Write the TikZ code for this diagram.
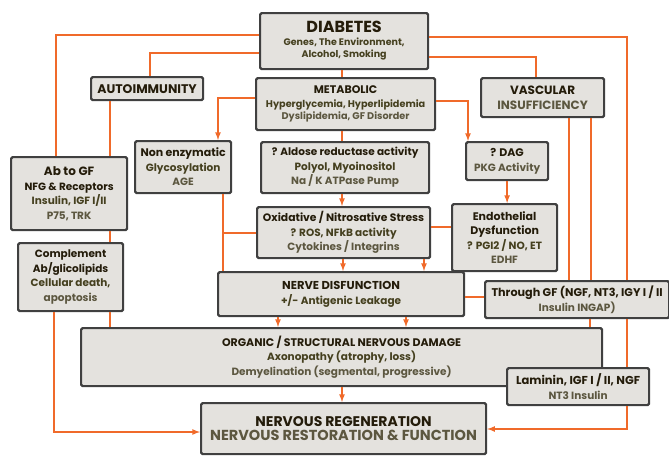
\documentclass[tikz,border=0pt]{standalone}
\usepackage{fontspec}
\setmainfont{Poppins}
\definecolor{edgeorange}{HTML}{F06A2A}
\definecolor{boxfill}{HTML}{E4E2DE}
\definecolor{boxline}{HTML}{404040}
\definecolor{tdark}{HTML}{241C0A}
\definecolor{tmid}{HTML}{45401F}
\definecolor{tlight}{HTML}{5C5740}
\newcommand{\hd}[1]{\textcolor{tdark}{\bfseries #1}}
\newcommand{\md}[1]{\textcolor{tmid}{\bfseries #1}}
\newcommand{\lt}[1]{\textcolor{tlight}{\bfseries #1}}
\newcommand{\sz}[1]{\fontsize{#1}{14.5}\selectfont}
\tikzset{
  panel/.style={draw=boxline, fill=boxfill, line width=2.2pt, rounded corners=1.5pt,
    align=center, anchor=north west, inner sep=1pt, font=\fontsize{10.5}{14.5}\selectfont},
  wire/.style={draw=edgeorange, line width=1.6pt},
  feed/.style={wire, -latex},
}

\begin{document}
\begin{tikzpicture}[x=1pt, y=-1pt]
			%%%%% FRAME %%%%%
			\useasboundingbox (0,0) rectangle (669,455);
			
			%%%%% BOXES %%%%%
			\node[panel, minimum width=168pt, minimum height=56pt] (diabetes) at (259,12)
				{{\fontsize{16}{17}\selectfont\hd{DIABETES}}\\[-2pt]
				 {\fontsize{9.5}{13}\selectfont\md{Genes, The Environment,}}\\[-2pt]
				 {\fontsize{9.5}{13}\selectfont\md{Alcohol, Smoking}}};
			\node[panel, minimum width=112pt, minimum height=23pt] (autoimm) at (90,76)
				{{\sz{12.5}\hd{AUTOIMMUNITY}}};
			\node[panel, minimum width=179pt, minimum height=52pt] (metabolic) at (255,77)
				{{\fontsize{11}{13}\selectfont\hd{METABOLIC}}\\[-1pt] {\sz{9.7}\md{Hyperglycemia, Hyperlipidemia}}\\[-2pt] {\sz{9.7}\lt{Dyslipidemia, GF Disorder}}};
			\node[panel, minimum width=123pt, minimum height=39pt] (vascular) at (480,77)
				{{\fontsize{12}{16}\selectfont\hd{VASCULAR}}\\ {\fontsize{12}{16}\selectfont\lt{INSUFFICIENCY}}};
			
			\node[panel, minimum width=116pt, minimum height=73pt] (abgf) at (10,156)
				{{\sz{12}\hd{Ab to GF}}\\ \hd{NFG \& Receptors}\\ \md{Insulin, IGF I/II}\\ \lt{P75, TRK}};
			\node[panel, minimum width=105pt, minimum height=68pt] (compl) at (17,242)
				{\hd{Complement}\\ \hd{Ab/glicolipids}\\ \md{Cellular death,}\\ \lt{apoptosis}};
			\node[panel, minimum width=96pt, minimum height=52pt] (nonenz) at (134,140)
				{{\sz{11}\hd{Non enzymatic}}\\ \md{Glycosylation}\\ \lt{AGE}};
			\node[panel, minimum width=168pt, minimum height=51pt] (aldose) at (260,141)
				{\hd{? Aldose reductase activity}\\ \md{Polyol, Myoinositol}\\ \lt{Na / K ATPase Pump}};
			\node[panel, minimum width=82pt, minimum height=38pt] (dag) at (465,141)
				{{\sz{11}\hd{? DAG}}\\ \lt{PKG Activity}};
			\node[panel, minimum width=173pt, minimum height=51pt] (oxid) at (256,206)
				{{\sz{10.8}\hd{Oxidative / Nitrosative Stress}}\\ \md{? ROS, NFkB activity}\\ \lt{Cytokines / Integrins}};
			\node[panel, minimum width=105pt, minimum height=67pt] (endo) at (451,203)
				{{\sz{11}\hd{Endothelial}}\\ {\sz{11}\hd{Dysfunction}}\\ \md{? PGI2 / NO, ET}\\ \lt{EDHF}};
			\node[panel, minimum width=246pt, minimum height=44pt] (nerve) at (217,271)
				{{\sz{11.5}\hd{NERVE DISFUNCTION}}\\ \md{+/- Antigenic Leakage}};
			\node[panel, minimum width=184pt, minimum height=37pt] (thru) at (484,280)
				{{\sz{11.2}\hd{Through GF (NGF, NT3, IGY I / II}}\\ \lt{Insulin INGAP)}};
			\node[panel, minimum width=521pt, minimum height=58pt] (organic) at (80,327)
				{{\sz{11}\hd{ORGANIC / STRUCTURAL NERVOUS DAMAGE}}\\ \md{Axonopathy (atrophy, loss)}\\ \lt{Demyelination (segmental, progressive)}};
			\node[panel, minimum width=142pt, minimum height=37pt] (laminin) at (506,367)
				{{\sz{11.5}\hd{Laminin, IGF I / II, NGF}}\\ \lt{NT3 Insulin}};
			\node[panel, minimum width=285pt, minimum height=51pt] (regen) at (200,402)
				{{\fontsize{14}{18}\selectfont\hd{NERVOUS REGENERATION}}\\ {\fontsize{14.5}{18}\selectfont\lt{NERVOUS RESTORATION \& FUNCTION}}};
			
			%%%%% LEFT SIDE %%%%%
			\draw[wire] (diabetes.west |- 0,35) -| (56,0 |- abgf.north);
			\draw[wire] (diabetes.west |- 0,53) -| (150,0 |- autoimm.north);
			\draw[wire] (110,0 |- autoimm.south) -- (110,0 |- abgf.north);
			\draw[wire] (110,0 |- abgf.south) -- (110,0 |- compl.north);
			\draw[wire] (110,0 |- compl.south) -- (110,0 |- organic.north);
			\draw[feed] (54,0 |- compl.south) |- (regen.west |- 0,432);
			
			%%%%% METABOLIC %%%%%
			\draw[wire] (342,0 |- diabetes.south) -- (342,0 |- metabolic.north);
			\draw[feed] (metabolic.west |- 0,98) -| (218,0 |- nonenz.north);
			\draw[feed] (metabolic.east |- 0,101) -| (468,0 |- dag.north);
			\draw[wire] (342,0 |- metabolic.south) -- (342,0 |- aldose.north);
			\draw[feed] (342,0 |- aldose.south) -- (342,0 |- oxid.north);
			\draw[feed] (dag.south) -- (dag.south |- endo.north);
			\draw[wire] (oxid.east |- 0,227) -- (endo.west |- 0,227);
			
			\coordinate (branch) at (223,233);
			\draw[wire] (223,0 |- nonenz.south) -- (223,0 |- nerve.north);
			\draw[wire] (branch) -- (oxid.west |- branch);
			
			\draw[feed] (343,0 |- oxid.south) -- (343,0 |- nerve.north);
			\draw[feed] (424,0 |- oxid.south) -- (424,0 |- nerve.north);
			\draw[feed] (278,0 |- nerve.south) -- (278,0 |- organic.north);
			\draw[feed] (406,0 |- nerve.south) -- (406,0 |- organic.north);
			\draw[wire] (nerve.east |- 0,297) -- (thru.west |- 0,297);
			\draw[feed] (342,0 |- organic.south) -- (342,0 |- regen.north);
			
			%%%%% RIGHT SIDE %%%%%
			\draw[wire] (diabetes.east |- 0,57) -| (536,0 |- vascular.north);
			\draw[wire] (diabetes.east |- 0,37) -| (627,0 |- thru.north);
			\draw[wire] (569,0 |- vascular.south) -- (569,0 |- thru.north);
			\draw[wire] (591,0 |- vascular.south) -- (591,0 |- thru.north);
			\draw[wire] (590,0 |- thru.south) -- (590,0 |- organic.north);
			\draw[wire] (627,0 |- thru.south) -- (627,0 |- laminin.north);
			\draw[feed] (627,0 |- laminin.south) |- (regen.east |- 0,429);
			
			%%%%% END %%%%%
\end{tikzpicture}
\end{document}
